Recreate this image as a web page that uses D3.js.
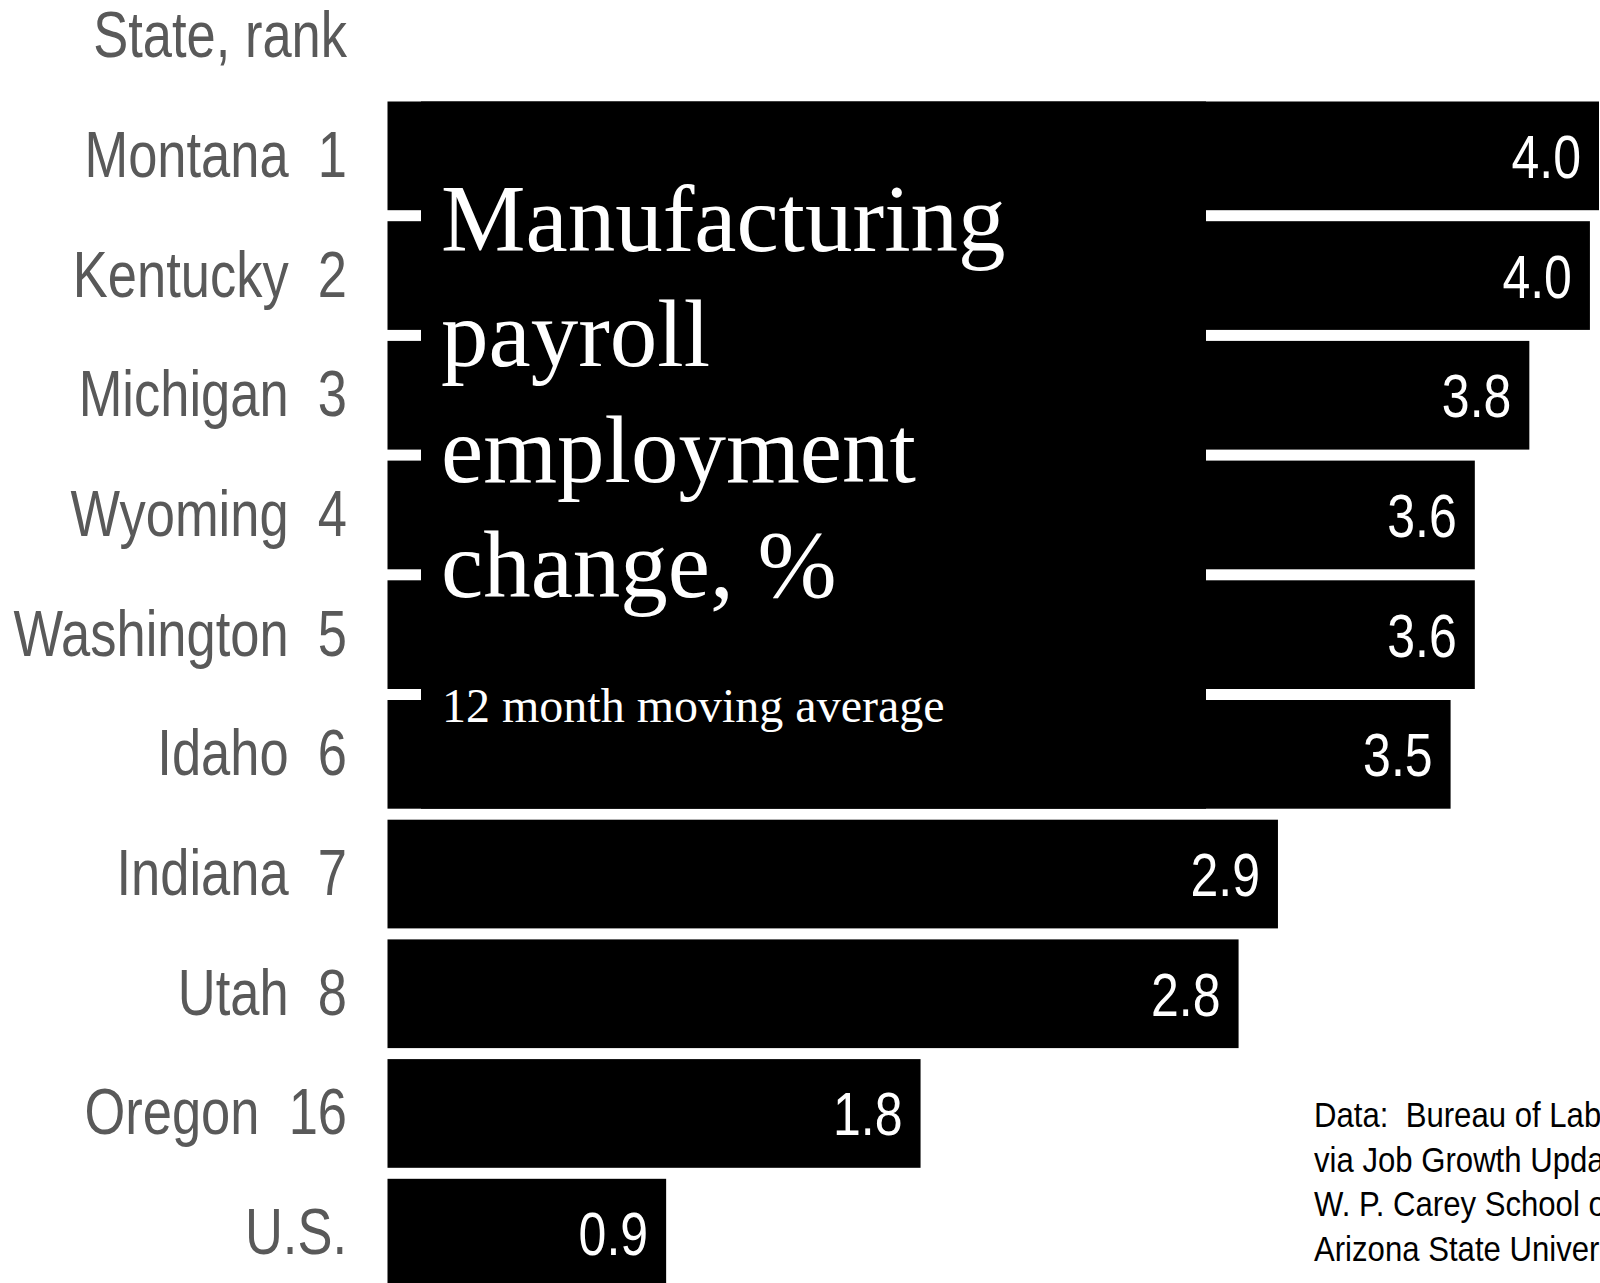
<!DOCTYPE html>
<html>
<head>
<meta charset="utf-8">
<script src="https://cdn.jsdelivr.net/npm/d3@7"></script>
<style>
  html, body { margin: 0; padding: 0; background: #fff; overflow: hidden; }
  svg { display: block; }
  .sans { font-family: "Liberation Sans", Arial, Helvetica, sans-serif; }
  .serif { font-family: "Liberation Serif", "Times New Roman", Times, serif; }
</style>
</head>
<body>
<svg id="chart" width="1600" height="1283"></svg>
<script>
// Categories, ranks and 12-month moving-average changes (%)
const states = ["Montana", "Kentucky", "Michigan", "Wyoming", "Washington", "Idaho", "Indiana", "Utah", "Oregon", "U.S."];
const ranks  = ["1", "2", "3", "4", "5", "6", "7", "8", "16", ""];
const values = [4.00, 3.97, 3.77, 3.59, 3.59, 3.51, 2.94, 2.81, 1.76, 0.92];

const axisHeader = "State, rank";
const titleLines = ["Manufacturing", "payroll", "employment", "change, %"];
const subtitle = "12 month moving average";
const sourceLines = [
  "Data:  Bureau of Labor Statistics",
  "via Job Growth Update,",
  "W. P. Carey School of Business,",
  "Arizona State University"
];

const W = 1600, H = 1283;
const svg = d3.select("#chart");

// Condensed sans: regular sans squeezed horizontally
const narrowAt = (xPos, yPos, k = 0.82) => `translate(${xPos},${yPos}) scale(${k},1)`;

const rows = states.map((s, i) => ({ state: s, rank: ranks[i], value: values[i] }));

const x = d3.scaleLinear().domain([0, 4]).range([387.5, 1599]);
const y = d3.scaleBand()
  .domain(states)
  .range([101.5, 1287.5])
  .paddingInner(0.0919)
  .paddingOuter(0);

const fmt = d3.format(".1f");

// Bars
svg.append("g")
  .selectAll("rect")
  .data(rows)
  .join("rect")
  .attr("x", x(0))
  .attr("y", d => y(d.state))
  .attr("width", d => x(d.value) - x(0))
  .attr("height", y.bandwidth())
  .attr("fill", "#000");

// Title panel laid over the top six bars, leaving short gap stubs at the left
const panelTop = y(states[0]);
const panelBottom = y(states[5]) + y.bandwidth();
svg.append("rect")
  .attr("x", 421)
  .attr("y", panelTop)
  .attr("width", 1206 - 421)
  .attr("height", panelBottom - panelTop)
  .attr("fill", "#000");

// Value labels inside bar ends
svg.append("g")
  .attr("class", "sans")
  .selectAll("text")
  .data(rows)
  .join("text")
  .attr("transform", d => narrowAt(x(d.value) - 18, y(d.state) + y.bandwidth() / 2 + 22))
  .attr("text-anchor", "end")
  .attr("fill", "#fff")
  .attr("font-size", 61)
  .text(d => fmt(d.value));

// Category labels (state name + rank)
svg.append("g")
  .attr("class", "sans")
  .selectAll("text")
  .data(rows)
  .join("text")
  .attr("transform", d => narrowAt(347, y(d.state) + y.bandwidth() / 2 + 21))
  .attr("text-anchor", "end")
  .attr("fill", "#595959")
  .attr("font-size", 64)
  .style("white-space", "pre")
  .text(d => d.rank ? d.state + "  " + d.rank : d.state);

// Column header
svg.append("text")
  .attr("class", "sans")
  .attr("transform", narrowAt(347, 57))
  .attr("text-anchor", "end")
  .attr("fill", "#595959")
  .attr("font-size", 64)
  .text(axisHeader);

// Title inside the panel
svg.append("g")
  .attr("class", "serif")
  .selectAll("text")
  .data(titleLines)
  .join("text")
  .attr("x", 441)
  .attr("y", (d, i) => 251 + i * 115.3)
  .attr("fill", "#fff")
  .attr("font-size", 95)
  .text(d => d);

svg.append("text")
  .attr("class", "serif")
  .attr("x", 442)
  .attr("y", 722)
  .attr("fill", "#fff")
  .attr("font-size", 48)
  .text(subtitle);

// Source note
svg.append("g")
  .attr("class", "sans")
  .selectAll("text")
  .data(sourceLines)
  .join("text")
  .attr("transform", (d, i) => narrowAt(1314, 1127 + i * 44.7, 0.865))
  .attr("fill", "#000")
  .attr("font-size", 36)
  .style("white-space", "pre")
  .text(d => d);
</script>
</body>
</html>
